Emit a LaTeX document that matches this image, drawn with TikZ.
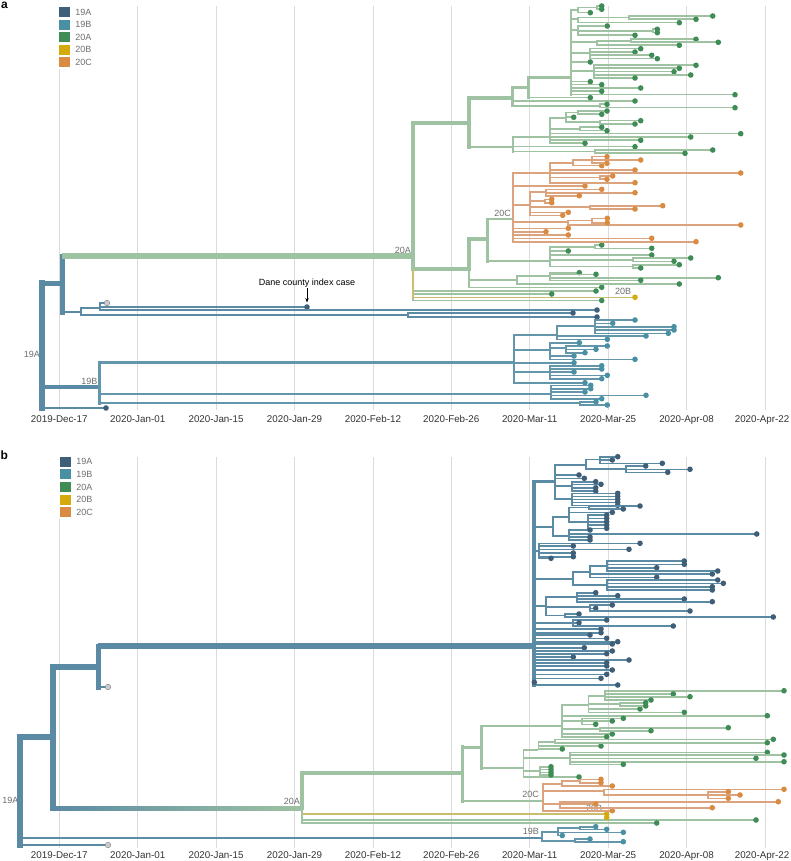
\documentclass[tikz,border=0pt]{standalone}
\usepackage{fontspec}
\setmainfont{Liberation Sans}
\usetikzlibrary{arrows.meta,positioning}

\definecolor{c19a}{HTML}{5B8BA4}
\definecolor{c19b}{HTML}{6396AA}
\definecolor{c20a}{HTML}{9FC2A2}
\definecolor{c20b}{HTML}{C9BE6E}
\definecolor{c20c}{HTML}{DBA47F}
\definecolor{d19a}{HTML}{3F5E78}
\definecolor{d19b}{HTML}{4A90A4}
\definecolor{d20a}{HTML}{3F8C57}
\definecolor{d20b}{HTML}{D4AA0C}
\definecolor{d20c}{HTML}{D98B41}
\definecolor{labgray}{HTML}{6E6E6E}

% branch from a node (x, y of parent) to each child
\newcommand{\kids}[4]{\foreach \cx/\cy in {#4}{\draw[#1] (#2,#3) |- (\cx,\cy);}}
% branch to each tip, with its dot
\newcommand{\leaves}[5]{\foreach \cx/\cy in {#5}{\draw[#1] (#3,#4) |- (\cx,\cy); \path[#2] (\cx,\cy) circle (2.8);}}

\begin{document}
\begin{tikzpicture}[x=1pt,y=-1pt,
    > = {Stealth[scale=0.8]},
    br/.style={line width=1.6pt},
    ba/.style={br,c19a}, bb/.style={br,c19b}, bg/.style={br,c20a},
    bo/.style={br,c20c}, by/.style={br,c20b},
    da/.style={fill=d19a}, db/.style={fill=d19b}, dg/.style={fill=d20a},
    dy/.style={fill=d20b}, do/.style={fill=d20c},
    dgr/.style={fill=black!20,draw=black!45,line width=0.5pt},
    grid/.style={black!14,line width=0.8pt},
    date/.style={font=\fontsize{9.8}{12}\selectfont,text=black!80,inner sep=0pt,anchor=base},
    clade/.style={font=\fontsize{9}{11}\selectfont,text=labgray,inner sep=0pt},
    legsq/.style={minimum width=11pt,minimum height=10pt,inner sep=0pt},
    leglab/.style={font=\fontsize{9}{11}\selectfont,text=labgray,inner sep=0pt},
    panel/.style={font=\fontsize{12}{14}\selectfont\bfseries,inner sep=0pt}
    ]
    \fill[white] (0,0) rectangle (790,861);
    \useasboundingbox (0,0) rectangle (790,861);

    % ---------------- panel a ----------------
    \foreach \i in {0,...,9} \draw[grid] (59.3+78.4*\i,6) -- (59.3+78.4*\i,410);
    \foreach \d [count=\i from 0] in {2019-Dec-17,2020-Jan-01,2020-Jan-15,2020-Jan-29,2020-Feb-12,2020-Feb-26,2020-Mar-11,2020-Mar-25,2020-Apr-08}
        \node[date] (dtA\i) at (59.3+78.4*\i,422.5) {\d};
    \node[date,anchor=base east] (dtA9) at (789.5,422.5) {2020-Apr-22};
    \node[panel,anchor=north west] (pa) at (1,2) {a};
    % Legend
    \fill[white] (56,5) rectangle (96,69);
    \foreach \lab/\col [count=\i] in {19A/d19a,19B/d19b,20A/d20a,20B/d20b,20C/d20c}{
        \node[legsq,fill=\col] (legA\i) at (64.5,12+12.6*\i-12.6) {};
        \node[leglab,right=5pt of legA\i] (legtA\i) {\lab};
    }
    % Root
    \draw[ba,line width=5.5pt,line cap=rect] (42,283) -- (42,408);
    \draw[ba,line width=5pt] (42,283) -- (62,283);
    \draw[ba,line width=5pt,line cap=rect] (62,256) -- (62,312);
    \draw[bg,line width=5.5pt] (62,256) -- (413,256);
    \draw[ba] (62,312) -- (80.7,312);
    \kids{ba}{80.7}{312}{100/308,408/315}
    \leaves{ba}{dgr}{100}{308}{107/303}
    \leaves{ba}{da}{100}{308}{307/307,597/310}
    \leaves{ba}{da}{408}{315}{573/313,597/317}
    \leaves{ba}{da}{42}{408}{106/408}
    \node[clade,anchor=east] (l19Aa) at (40,354) {19A};
    % Index case
    \node[font=\fontsize{9}{11}\selectfont,inner sep=1pt] (idx) at (307,283) {Dane county index case};
    \coordinate (idxtip) at (307,302.5);
    \draw[->,line width=0.6pt] (idx) -- (idxtip);
    % 19B
    \draw[ba,line width=4pt] (42,387) -- (99,387);
    \draw[bb,line width=3pt,line cap=rect] (99,362) -- (99,403);
    \draw[bb,line width=3pt] (99,362) -- (514,362);
    \kids{bb}{99}{387}{551/394,580/403}
    \node[clade,anchor=south east] (l19Ba) at (97.5,385) {19B};
    \draw[bb,line width=2.5pt,line cap=rect] (514,335) -- (514,383);
    \kids{bb}{514}{362}{557/335,550/350,550/372}
    \leaves{bb}{db}{514}{362}{574/362.7,585/382.7}
    \kids{bb}{557}{335}{595/326}
    \leaves{bb}{db}{557}{335}{646/336,607.3/339.3}
    \leaves{bb}{db}{595}{326}{635/320,612.7/323.3,674/326.7,674/330,668.3/333.3}
    \kids{bb}{550}{350}{566/348}
    \leaves{bb}{db}{550}{350}{579.3/342.7,574/356,635/359.3}
    \leaves{bb}{db}{566}{348}{607.3/346,596/349.3,585/352.7}
    \leaves{bb}{db}{550}{372}{601.7/365.7,601.7/369,574/372,607.3/375.3,601.7/378.7}
    \leaves{bb}{db}{551}{394}{590.7/385.3,590.7/388.7,585/392,646/395.3,601.7/398.7}
    \leaves{bb}{db}{580}{403}{596/401.7,607.3/405}
    % 20A
    \draw[bg,line width=4.5pt,line cap=rect] (413,123) -- (413,269);
    \draw[bg,line width=2.5pt] (413,269) -- (413,301);
    \draw[bg,line width=4pt] (413,123) -- (469,123);
    \draw[bg,line width=4pt] (413,269) -- (469,269);
    \leaves{bg}{dg}{413}{269}{596/291,551.7/294,601.7/300.5}
    \leaves{by}{dy}{413}{269}{635/297.3}
    \node[clade,anchor=south east] (l20Aa) at (411,254) {20A};
    \node[clade] (l20Ba) at (623,291) {20B};
    % 20A upper
    \draw[bg,line width=3.5pt,line cap=rect] (469,98) -- (469,147);
    \draw[bg,line width=3.5pt] (469,98) -- (512,98);
    \draw[bg,line width=2.5pt] (469,147) -- (513,147);
    \draw[bg,line width=3pt,line cap=rect] (512,88) -- (512,106);
    \draw[bg,line width=3pt] (512,88) -- (528,88);
    \leaves{bg}{dg}{512}{98}{635/101}
    \kids{bg}{512}{98}{600/106}
    \leaves{bg}{dg}{600}{106}{607/104.3,735/107.7}
    \draw[bg,line width=3pt,line cap=rect] (528,78) -- (528,97.7);
    \draw[bg,line width=3pt] (528,78) -- (571,78);
    \leaves{bg}{dg}{528}{88}{590.3/97.7}
    \draw[bg,line width=2.5pt,line cap=rect] (571,10) -- (571,94.7);
    \kids{bg}{571}{78}{578/10,578/19,578/30,597/42,590/53,594/71}
    \leaves{bg}{dg}{571}{78}{590.3/62,590.3/81.7,601.7/84.7,640.7/88,601.7/91.3,735/94.7}
    \kids{bg}{578}{10}{597/7.7}
    \leaves{bg}{dg}{597}{7.7}{601.7/6,601.7/9.3}
    \leaves{bg}{dg}{578}{10}{590.3/12.7}
    \kids{bg}{578}{19}{629/17.7}
    \leaves{bg}{dg}{629}{17.7}{712.7/16,696/19.3}
    \leaves{bg}{dg}{578}{19}{679.3/22.7}
    \kids{bg}{578}{30}{653/31}
    \leaves{bg}{dg}{578}{30}{607.3/26,635/35.3}
    \leaves{bg}{dg}{653}{31}{657.3/29.3,657.3/32.7}
    \kids{bg}{597}{42}{631/40.8}
    \leaves{bg}{dg}{631}{40.8}{696/39.3,718.3/42.3}
    \leaves{bg}{dg}{597}{42}{679.3/45.3}
    \leaves{bg}{dg}{590}{53}{640.7/48.7,635/52,651.7/55.3,657.3/58.7}
    \leaves{bg}{dg}{594}{71}{696/65.3,679.3/68.3,674/71.7,690.7/75,635/78}
    \draw[bg,line width=2.5pt,line cap=rect] (513,137) -- (513,151.7);
    \kids{bg}{513}{147}{550/137,595/151.7}
    \leaves{bg}{dg}{513}{147}{635/146.7}
    \leaves{bg}{dg}{595}{151.7}{712.7/150,685/153.3}
    \kids{bg}{550}{137}{566/118,580/129}
    \leaves{bg}{dg}{550}{137}{740.7/133.7,690.7/137,640.7/140.3,585/143.3}
    \kids{bg}{566}{118}{578/112.5,600/122.3}
    \leaves{bg}{dg}{566}{118}{573.7/117.3}
    \leaves{bg}{dg}{578}{112.5}{607/111,601.7/114.3}
    \leaves{bg}{dg}{600}{122.3}{640.7/120.7,635/124}
    \leaves{bg}{dg}{580}{129}{601.7/127.3,607/130.7}
    % 20A lower
    \draw[bg,line width=3.5pt,line cap=rect] (469,239) -- (469,269);
    \draw[bg] (469,269) -- (469,287.3);
    \draw[bg,line width=3.5pt] (469,239) -- (487,239);
    \kids{bg}{469}{269}{517/280}
    \leaves{bg}{dg}{469}{269}{601.7/287.3}
    \kids{bg}{517}{280}{550/276}
    \leaves{bg}{dg}{517}{280}{679.3/284}
    \leaves{bg}{dg}{550}{276}{579.3/272.7,596/274.3,718.3/277.7,640.7/280.3}
    \draw[bg,line width=3pt,line cap=rect] (487,219) -- (487,261);
    \draw[bg,line width=2.5pt] (487,219) -- (513,219);
    \draw[bg,line width=2.5pt] (487,261) -- (550,261);
    \kids{bg}{550}{261}{595/246.7,633/259.7,633/266.3}
    \leaves{bg}{dg}{550}{261}{568.3/251,651.7/255}
    \leaves{bg}{dg}{595}{246.7}{601.7/245,651.7/248.3}
    \leaves{bg}{dg}{633}{259.7}{690.7/258,674/261.3}
    \leaves{bg}{dg}{633}{266.3}{679.3/264.7,640.7/268}
    % 20C
    \draw[bo,line width=2.5pt,line cap=rect] (513,173) -- (513,241.7);
    \node[clade,anchor=south east] (l20Ca) at (511,217) {20C};
    \kids{bo}{513}{219}{550/173,530/205,568/222}
    \leaves{bo}{do}{513}{219}{585/186,568.3/228.3,546/231.7,568.3/235,651.7/238.3,696/241.7}
    \kids{bo}{550}{173}{573/163,600/177.7}
    \leaves{bo}{do}{550}{173}{635/170,740.7/173,635/182.7}
    \kids{bo}{573}{163}{592/160}
    \leaves{bo}{do}{573}{163}{601.7/165.7}
    \leaves{bo}{do}{592}{160}{607/156.7,640.7/160,607/163.3}
    \leaves{bo}{do}{600}{177.7}{612.7/176,607/179.3}
    \kids{bo}{530}{205}{546/192,545/201,590/207}
    \leaves{bo}{do}{530}{205}{568.3/212.3,562.7/215.3}
    \leaves{bo}{do}{546}{192}{601.7/189.3,635/192.7,579.3/195.7}
    \leaves{bo}{do}{545}{201}{551.7/199.3,551.7/202.7}
    \leaves{bo}{do}{590}{207}{662.7/205.7,635/209}
    \kids{bo}{568}{222}{592/220.5}
    \leaves{bo}{do}{568}{222}{740.7/225}
    \leaves{bo}{do}{592}{220.5}{607.3/218.3,607.3/222.7}

    % ---------------- panel b ----------------
    \foreach \i in {0,...,9} \draw[grid] (59.3+78.4*\i,457) -- (59.3+78.4*\i,848);
    \foreach \d [count=\i from 0] in {2019-Dec-17,2020-Jan-01,2020-Jan-15,2020-Jan-29,2020-Feb-12,2020-Feb-26,2020-Mar-11,2020-Mar-25,2020-Apr-08}
        \node[date] (dtB\i) at (59.3+78.4*\i,858.5) {\d};
    \node[date,anchor=base east] (dtB9) at (789.5,858.5) {2020-Apr-22};
    \node[panel,anchor=west] (pb) at (0.5,455) {b};
    % Legend
    \fill[white] (56,455) rectangle (96,519);
    \foreach \lab/\col [count=\i] in {19A/d19a,19B/d19b,20A/d20a,20B/d20b,20C/d20c}{
        \node[legsq,fill=\col] (legB\i) at (65.5,461.7+12.6*\i-12.6) {};
        \node[leglab,right=5pt of legB\i] (legtB\i) {\lab};
    }
    % Root
    \draw[ba,line width=6pt,line cap=rect] (20,737) -- (20,845);
    \draw[ba,line width=6pt] (20,737) -- (53,737);
    \draw[ba,line width=5.5pt,line cap=rect] (53,667) -- (53,808);
    \draw[ba,line width=5.5pt] (53,667) -- (98,667);
    \draw[ba,line width=5pt,line cap=rect] (98,646) -- (98,687);
    \draw[ba,line width=5.5pt] (98,646) -- (534,646);
    \leaves{ba}{dgr}{98}{667}{108/687}
    \shade[left color=c19a,right color=c20a] (53,806) rectangle (302,810.5);
    \draw[ba] (20,838) -- (541.7,838);
    \leaves{ba}{dgr}{20}{737}{108/845}
    \node[clade,anchor=east] (l19Ab) at (18.5,800) {19A};
    % 19A
    \draw[ba,line width=4pt,line cap=rect] (534,481.7) -- (534,685);
    \draw[ba,line width=3pt] (534,481.7) -- (555,481.7);
    \draw[ba,line width=2.5pt] (534,527) -- (553,527);
    \kids{ba}{534}{646}{539/551,573/579,546/606,573/623}
    \leaves{ba}{da}{534}{646}{601/629,601/632.7,590/635,606.7/638.3,617.7/641.7,612.3/644,584.3/647.7,612.3/651,606.7/653.7,573.3/657,629/660,606.7/662.7,606.7/666,612.3/670,606.7/674.3,601/678.3,617.7/685}
    \path[da] (534.3,682.3) circle (2.8);
    \kids{ba}{555}{481.7}{586/465,572/486,572/499}
    \leaves{ba}{da}{555}{481.7}{579/475,584.3/478.3}
    \kids{ba}{586}{465}{600/459.5,626/469}
    \leaves{ba}{da}{600}{459.5}{617.7/456.7,612.3/460,662.3/463.3}
    \leaves{ba}{da}{626}{469}{645.7/466,690/469.3,667.7/472.3}
    \leaves{ba}{da}{572}{486}{595.7/481.7,601/484.3,595.7/487.7,595.7/491}
    \leaves{ba}{da}{572}{499}{617.7/493.3,617.7/496.3,617.7/499.3,617.7/502.3,617.7/505.3}
    \kids{ba}{553}{527}{569/517,569/536}
    \kids{ba}{569}{517}{589/507.5,588/521.7}
    \leaves{ba}{da}{569}{517}{612.3/512.3}
    \leaves{ba}{da}{589}{507.5}{640/506,623.3/509}
    \leaves{ba}{da}{588}{521.7}{606.7/515,606.7/518.3,606.7/521.7,606.7/525,606.7/528.3}
    \leaves{ba}{da}{569}{536}{590/530,756.7/534,590/537,590/540}
    \leaves{ba}{da}{539}{551}{640/543.3,573.3/546,629/549.3,573.3/553,573.3/556.7,551/558.3}
    \kids{ba}{573}{579}{590/572,606.7/585}
    \kids{ba}{590}{572}{606.7/566}
    \leaves{ba}{da}{590}{572}{712.3/574,656.7/577.3}
    \leaves{ba}{da}{606.7}{566}{684.3/561,684.3/564.3,656.7/567.7,717.7/571}
    \leaves{ba}{da}{606.7}{585}{717.7/580,723.3/583.3,712.3/586.7,712.3/590}
    \kids{ba}{546}{606}{577/597,590/607,565/615.5}
    \leaves{ba}{da}{577}{597}{595.7/592.7,617.7/595.7,684.3/599,712.3/601.7}
    \leaves{ba}{da}{590}{607}{612.3/605,595.7/608.3,690/611}
    \leaves{ba}{da}{565}{615.5}{579/614,773.3/617}
    \leaves{ba}{da}{573}{623}{606.7/620,579/622.7,673.3/626}
    % 20A
    \draw[bg,line width=3.5pt,line cap=rect] (302,773) -- (302,808);
    \draw[bg] (302,808) -- (302,823);
    \draw[bg,line width=4pt] (302,773) -- (462.5,773);
    \node[clade,anchor=east] (l20Ab) at (300,801) {20A};
    \leaves{bg}{dg}{302}{808}{756/820,656.7/823}
    \draw[by] (302,814) -- (606.7,814);
    \path[dy] (606.7,814) circle (2.8);
    \path[dy] (606.7,817.5) circle (2.8);
    \node[clade] (l20Bb) at (594,808) {20B};
    \draw[bg,line width=3.5pt,line cap=rect] (462.5,747) -- (462.5,801);
    \draw[bg,line width=3pt] (462.5,747) -- (481,747);
    \draw[bg] (462.5,801) -- (543,801);
    \draw[bg,line width=3pt,line cap=rect] (481,726) -- (481,768);
    \draw[bg,line width=2.5pt] (481,726) -- (561.7,726);
    \draw[bg] (481,768) -- (523.3,768);
    \kids{bg}{561.7}{726}{588.3/705,581.7/721,600/729}
    \leaves{bg}{dg}{561.7}{726}{767.3/715.7,612.3/734,606.7/736.7}
    \kids{bg}{588.3}{705}{605/696,620/704}
    \leaves{bg}{dg}{588.3}{705}{640/709,684.3/712.3}
    \leaves{bg}{dg}{605}{696}{784/690.7,673.3/694,690/696.7,651/700}
    \leaves{bg}{dg}{620}{704}{645.7/702.7,645.7/706}
    \leaves{bg}{dg}{581.7}{721}{623.3/718.3,612.3/721,595.7/724.3}
    \leaves{bg}{dg}{600}{729}{728.3/727.7,651/730.7}
    \kids{bg}{523.3}{768}{538.3/750,570/758,540/771}
    \leaves{bg}{dg}{523.3}{768}{579/777}
    \kids{bg}{538.3}{750}{555/742}
    \leaves{bg}{dg}{538.3}{750}{601/746,562.3/749}
    \leaves{bg}{dg}{555}{742}{773.3/739.3,767.3/742.7}
    \leaves{bg}{dg}{570}{758}{767.3/752.3,784/755,756/758.3,784/761.7,623.3/764.3}
    \leaves{bg}{dg}{540}{771}{551/766.7,551/769.5,551/772.3,551/775}
    % 20C
    \draw[bo,line width=2pt,line cap=rect] (543,784) -- (543,811);
    \node[clade,anchor=east] (l20Cb) at (539,794) {20C};
    \kids{bo}{543}{801}{561.7/784,604/791,560/804}
    \leaves{bo}{do}{543}{801}{612.3/810.7}
    \kids{bo}{561.7}{784}{580/781}
    \leaves{bo}{do}{561.7}{784}{612.3/786}
    \leaves{bo}{do}{580}{781}{601/779.3,601/782.7}
    \kids{bo}{604}{791}{708/795}
    \leaves{bo}{do}{604}{791}{784/789.3}
    \leaves{bo}{do}{708}{795}{728.3/791.7,740/795,728.3/798.3}
    \leaves{bo}{do}{560}{804}{778.3/801.7,595.7/804,712.3/807.7}
    % 19B
    \node[clade,anchor=east] (l19Bb) at (539,831) {19B};
    \kids{bb}{541.7}{838}{558/832,575/841}
    \kids{bb}{558}{832}{580/828}
    \leaves{bb}{db}{558}{832}{623.3/832.3,562.3/835.5}
    \leaves{bb}{db}{580}{828}{595.7/826.7,606.7/829.3}
    \leaves{bb}{db}{575}{841}{590/839,623.3/841.7}
\end{tikzpicture}
\end{document}
